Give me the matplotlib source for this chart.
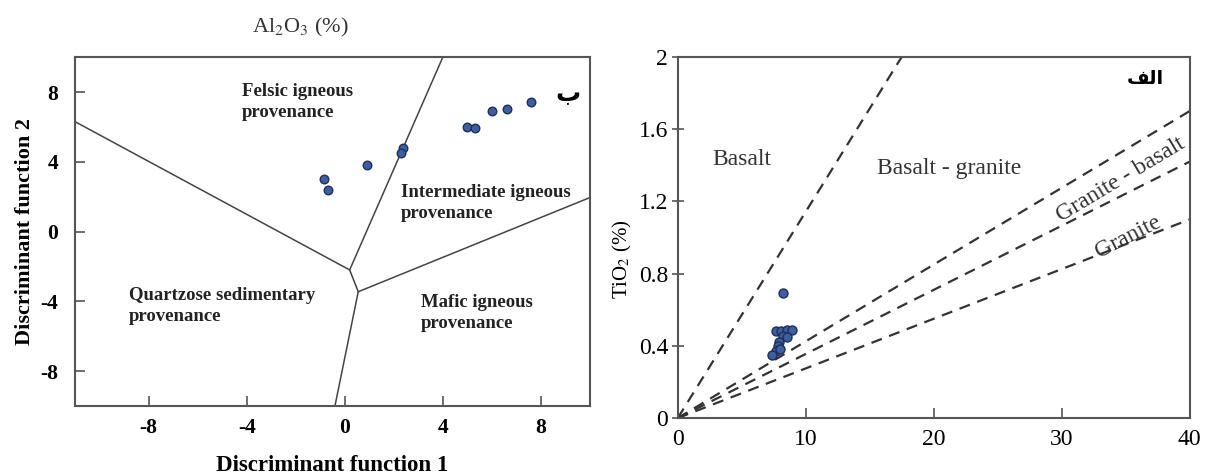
import matplotlib
matplotlib.use("Agg")
import matplotlib.pyplot as plt

plt.rcParams['font.family'] = ['Liberation Serif', 'DejaVu Sans']
plt.rcParams['axes.unicode_minus'] = False
plt.rcParams['mathtext.fontset'] = 'stix'

# ---- Left panel: discriminant function diagram ----
df1 = [-0.86, -0.7, 0.9, 2.37, 2.3, 5.0, 5.3, 6.0, 6.6, 7.6]
df2 = [3.0, 2.4, 3.8, 4.77, 4.5, 6.0, 5.95, 6.9, 7.0, 7.4]

# boundary polylines (x list, y list)
b1_x = [-11.0, 0.2, 4.0]
b1_y = [6.3, -2.2, 10.0]
b2_x = [0.2, 0.55]
b2_y = [-2.2, -3.45]
b3_x = [10.0, 0.55, -0.4]
b3_y = [1.95, -3.45, -10.0]

left_xticks = [-8, -4, 0, 4, 8]
left_yticks = [-8, -4, 0, 4, 8]

# ---- Right panel: TiO2 vs Al2O3 ----
al2o3 = [8.2, 7.7, 8.1, 8.5, 8.9, 8.2, 8.5, 7.9, 7.8, 7.7, 7.4, 8.0]
tio2 = [0.69, 0.48, 0.48, 0.49, 0.49, 0.455, 0.45, 0.42, 0.40, 0.37, 0.35, 0.38]

line_x_end = [17.5, 40, 40, 40]
line_y_end = [2.0, 1.70, 1.42, 1.10]

right_xticks = [0, 10, 20, 30, 40]
right_yticks = [0, 0.4, 0.8, 1.2, 1.6, 2]
right_yticklabels = ['0', '0.4', '0.8', '1.2', '1.6', '2']

fig = plt.figure(figsize=(12.06, 4.74), dpi=100)

spine_col = '#555555'
pt_face = '#3f5f9c'
pt_edge = '#1c2f5e'

# Left axes
ax1 = fig.add_axes([0.0622, 0.1435, 0.427, 0.736])
ax1.set_xlim(-11, 10)
ax1.set_ylim(-10, 10)
for s in ax1.spines.values():
    s.set_color(spine_col)
    s.set_linewidth(1.5)
ax1.plot(b1_x, b1_y, color='#444444', lw=1.1)
ax1.plot(b2_x, b2_y, color='#444444', lw=1.1)
ax1.plot(b3_x, b3_y, color='#444444', lw=1.1)
ax1.scatter(df1, df2, s=38, facecolor=pt_face, edgecolor=pt_edge, linewidth=1.0, zorder=3)
ax1.set_xticks(left_xticks)
ax1.set_yticks(left_yticks)
ax1.tick_params(axis='x', direction='in', length=7, width=1.2, color=spine_col, labelsize=15.5, pad=9)
ax1.tick_params(axis='y', direction='in', length=7, width=1.2, color=spine_col, labelsize=15.5, pad=12)
for lab in ax1.get_xticklabels() + ax1.get_yticklabels():
    lab.set_fontweight('bold')
ax1.set_xlabel('Discriminant function 1', fontsize=16.5, fontweight='bold', labelpad=12)
ax1.set_ylabel('Discriminant function 2', fontsize=16, fontweight='bold', labelpad=4)

rk = dict(fontsize=13.5, fontweight='bold', va='top', ha='left', color='#222222', linespacing=1.25)
ax1.text(-4.2, 8.5, 'Felsic igneous\nprovenance', **rk)
ax1.text(2.3, 2.7, 'Intermediate igneous\nprovenance', **rk)
ax1.text(-8.8, -3.2, 'Quartzose sedimentary\nprovenance', **rk)
ax1.text(3.1, -3.6, 'Mafic igneous\nprovenance', **rk)
ax1.text(9.6, 7.9, 'ب', fontsize=18, fontweight='bold', ha='right', va='center',
         family=['DejaVu Sans'])

fig.text(0.249, 0.943, 'Al$_2$O$_3$ (%)', fontsize=16, ha='center', va='center', color='#333333')

# Right axes
ax2 = fig.add_axes([0.562, 0.118, 0.4245, 0.762])
ax2.set_xlim(0, 40)
ax2.set_ylim(0, 2)
for s in ax2.spines.values():
    s.set_color(spine_col)
    s.set_linewidth(1.5)
for xe, ye in zip(line_x_end, line_y_end):
    ax2.plot([0, xe], [0, ye], color='#333333', lw=1.6, ls=(0, (5, 3.5)))
ax2.scatter(al2o3, tio2, s=42, facecolor=pt_face, edgecolor=pt_edge, linewidth=1.0, zorder=3)
ax2.set_xticks(right_xticks)
ax2.set_yticks(right_yticks)
ax2.set_yticklabels(right_yticklabels)
ax2.tick_params(axis='x', direction='in', length=7, width=1.2, color=spine_col, labelsize=17, pad=8)
ax2.tick_params(axis='y', direction='inout', length=8, width=1.2, color=spine_col, labelsize=17, pad=3)
ax2.set_ylabel('TiO$_2$ (%)', fontsize=15)
ax2.yaxis.set_label_coords(-0.085, 0.44)

rt = dict(fontsize=17, color='#333333')
ax2.text(2.7, 1.43, 'Basalt', ha='left', va='center', **rt)
ax2.text(15.6, 1.38, 'Basalt - granite', ha='left', va='center', **rt)
ax2.text(34.6, 1.32, 'Granite - basalt', ha='center', va='center', rotation=31, **rt)
ax2.text(35.2, 1.0, 'Granite', ha='center', va='center', rotation=27, **rt)
ax2.text(38.0, 1.88, '\uFED2\uFEDF\uFE8D', fontsize=14, fontweight='bold', ha='right',
         va='center', family=['DejaVu Sans'])

fig.savefig('out.png', dpi=100)
